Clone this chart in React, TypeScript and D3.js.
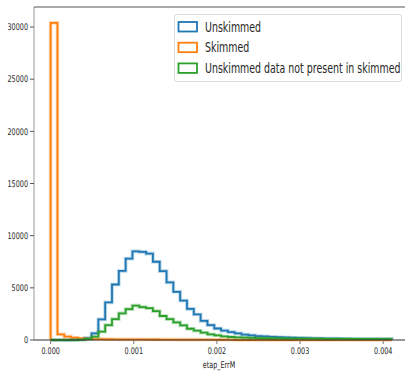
import React from "react";
import * as d3 from "d3";

const binCount = 50;
const binMax = 0.0041;
const unskimmed = [0, 0, 0, 20, 60, 180, 640, 1980, 3600, 5320, 6620, 7800, 8500, 8450, 8280, 7500, 6600, 5520, 4620, 3780, 2980, 2450, 1830, 1430, 1100, 900, 760, 640, 520, 450, 380, 340, 300, 270, 240, 220, 200, 180, 165, 150, 140, 130, 120, 112, 100, 100, 95, 95, 90, 90];
const skimmed = [30400, 545, 320, 220, 150, 110, 90, 80, 70, 65, 60, 60, 55, 55, 50, 50, 45, 45, 40, 40, 35, 35, 30, 30, 25, 25, 20, 0, 0, 0, 0, 0, 0, 0, 0, 0, 0, 0, 0, 0, 0, 0, 0, 0, 0, 0, 0, 0, 0, 0];
const notPresent = [0, 0, 0, 10, 30, 100, 320, 800, 1430, 2000, 2550, 2960, 3300, 3150, 3050, 2770, 2300, 2000, 1690, 1400, 1080, 890, 700, 540, 450, 340, 290, 250, 220, 200, 185, 170, 160, 150, 145, 140, 135, 130, 125, 120, 115, 110, 105, 105, 100, 100, 95, 95, 90, 90];
const seriesNames = ["Unskimmed", "Skimmed", "Unskimmed data not present in skimmed"];
const seriesColors = ["#1f77b4", "#ff7f0e", "#2ca02c"];
const xTicks = [0, 0.001, 0.002, 0.003, 0.004];
const yTicks = [0, 5000, 10000, 15000, 20000, 25000, 30000];
const xLabel = "etap_ErrM";

const SX = 0.7;
const FONT = "DejaVu Sans, sans-serif";

function SText({ x, y, size, anchor, children, baseline }: any) {
  return (
    <text
      transform={`translate(${x},${y}) scale(${SX},1)`}
      fontSize={size}
      fontFamily={FONT}
      textAnchor={anchor || "start"}
      dominantBaseline={baseline || "auto"}
      fill="#262626"
    >
      {children}
    </text>
  );
}

export default function App() {
  const W = 405, H = 371;
  const L = 34, R = 404, T = 7, B = 340;
  const x = d3.scaleLinear().domain([-0.0002, 0.00425]).range([L, R]);
  const y = d3.scaleLinear().domain([0, 31920]).range([B, T]);
  const edges = d3.range(binCount + 1).map((i) => (i * binMax) / binCount);

  const stepPath = (vals: number[]) => {
    const pts: [number, number][] = [[x(edges[0]), y(0)]];
    vals.forEach((v, i) => {
      pts.push([x(edges[i]), y(v)]);
      pts.push([x(edges[i + 1]), y(v)]);
    });
    pts.push([x(edges[binCount]), y(0)]);
    return d3.line()(pts) as string;
  };

  const series = [unskimmed, skimmed, notPresent];
  const fmt = d3.format(".3f");

  return (
    <svg width={W} height={H} style={{ position: "absolute", left: 0, top: 0 }}>
      <rect x={0} y={0} width={W} height={H} fill="#fff" />
      {series.map((s, i) => (
        <g key={i}>
          <path d={stepPath(s)} fill="none" stroke={seriesColors[i]} strokeOpacity={0.3} strokeWidth={3.6} />
          <path d={stepPath(s)} fill="none" stroke={seriesColors[i]} strokeWidth={1.8} />
        </g>
      ))}
      {/* spines */}
      <line x1={L} x2={L} y1={T} y2={B} stroke="#999" strokeWidth={1} />
      <line x1={L} x2={R + 1} y1={T} y2={T} stroke="#555" strokeWidth={1} />
      <line x1={L} x2={R + 1} y1={B} y2={B} stroke="#333" strokeWidth={1.2} />
      {yTicks.map((t) => (
        <g key={t}>
          <line x1={L - 4} x2={L} y1={y(t)} y2={y(t)} stroke="#555" />
          <SText x={L - 6} y={y(t) + 3.3} size={9.2} anchor="end">
            {t}
          </SText>
        </g>
      ))}
      {xTicks.map((t) => (
        <g key={t}>
          <line x1={x(t)} x2={x(t)} y1={B} y2={B + 4} stroke="#777" />
          <SText x={x(t)} y={354} size={9.2} anchor="middle">
            {fmt(t)}
          </SText>
        </g>
      ))}
      <SText x={(L + R) / 2} y={368} size={9.2} anchor="middle">
        {xLabel}
      </SText>
      {/* legend */}
      <rect x={174.5} y={14.5} width={227} height={67} rx={2} fill="#fff" fillOpacity={0.8} stroke="#ddd" />
      {seriesNames.map((n, i) => (
        <g key={n}>
          <rect x={178.5} y={22 + i * 20.7} width={18.5} height={9.5} fill="none" stroke={seriesColors[i]} strokeWidth={1.8} />
          <SText x={205} y={31.5 + i * 20.7} size={13.5}>
            {n}
          </SText>
        </g>
      ))}
    </svg>
  );
}
